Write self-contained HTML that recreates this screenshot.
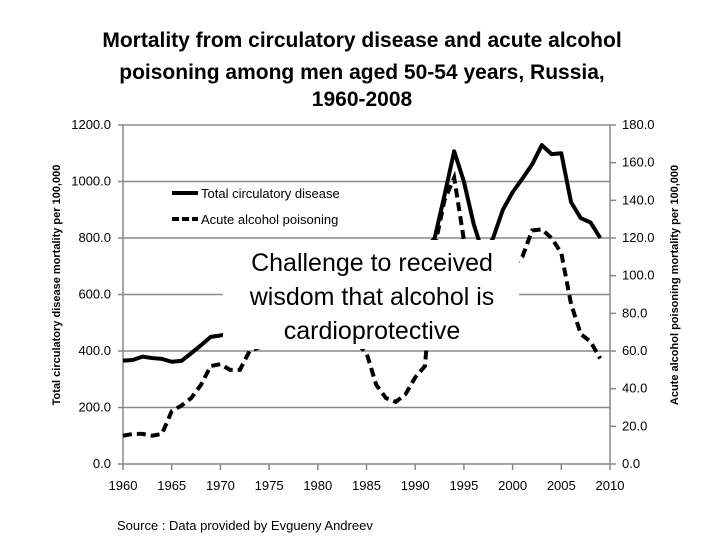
<!DOCTYPE html>
<html><head><meta charset="utf-8"><style>
body{margin:0;background:#fff;width:720px;height:540px;overflow:hidden;font-family:"Liberation Sans",sans-serif}
</style></head><body>
<svg width="720" height="540" xmlns="http://www.w3.org/2000/svg">
<g font-family="Liberation Sans, sans-serif" font-weight="bold" font-size="21" text-anchor="middle" fill="#000">
<text x="362" y="47">Mortality from circulatory disease and acute alcohol</text>
<text x="362" y="79">poisoning among men aged 50-54 years, Russia,</text>
<text x="362" y="106">1960-2008</text>
</g>
<g id="grid"></g>
<g id="axes"></g>
<g id="series"></g>
<rect x="223" y="240" width="296" height="109" fill="#fff"/>
<g font-size="25" text-anchor="middle" fill="#000">
<text x="372" y="271">Challenge to received</text>
<text x="372" y="305">wisdom that alcohol is</text>
<text x="372" y="339">cardioprotective</text>
</g>
<g font-size="13" fill="#000">
<line x1="172" y1="193" x2="198" y2="193" stroke="#000" stroke-width="4"/>
<text x="201" y="198">Total circulatory disease</text>
<line x1="172" y1="219" x2="198" y2="219" stroke="#000" stroke-width="4" stroke-dasharray="7,3"/>
<text x="201" y="224">Acute alcohol poisoning</text>
</g>
<text transform="translate(60,285) rotate(-90)" font-size="11" font-weight="bold" text-anchor="middle">Total circulatory disease mortality per 100,000</text>
<text transform="translate(678,285) rotate(-90)" font-size="11" font-weight="bold" text-anchor="middle">Acute alcohol poisoning mortality per 100,000</text>
<text x="117" y="530" font-size="13">Source : Data provided by Evgueny Andreev</text>
</svg>
<script>
const years=[1960,1961,1962,1963,1964,1965,1966,1967,1968,1969,1970,1971,1972,1973,1974,1975,1976,1977,1978,1979,1980,1981,1982,1983,1984,1985,1986,1987,1988,1989,1990,1991,1992,1993,1994,1995,1996,1997,1998,1999,2000,2001,2002,2003,2004,2005,2006,2007,2008,2009];
const circulatory=[366,368,380,375,372,362,365,392,420,450,455,462,480,500,520,540,560,580,600,610,620,640,650,660,660,650,620,600,610,640,700,760,800,950,1107,1000,850,740,800,900,962,1010,1060,1129,1097,1100,927,870,855,800];
const alcohol=[15,16,16,15,16,28,31,35,42,52,53,50,50,60,62,66,68,70,72,72,70,70,68,66,64,59,42,35,33,37,46,52,115,140,152,119,100,90,95,105,105,110,124,124.6,120,112,85,69,65,56];
const leftTicks=[0,200,400,600,800,1000,1200];
const rightTicks=[0,20,40,60,80,100,120,140,160,180];
const xTicks=[1960,1965,1970,1975,1980,1985,1990,1995,2000,2005,2010];
const NS='http://www.w3.org/2000/svg';
const X0=123,X1=610,Y0=464,Y1=125;
const xs=y=>X0+(y-1960)/(2010-1960)*(X1-X0);
const yl=v=>Y0-v/1200*(Y0-Y1);
const yr=v=>Y0-v/180*(Y0-Y1);
function mk(tag,attrs,parent){const e=document.createElementNS(NS,tag);for(const k in attrs)e.setAttribute(k,attrs[k]);parent.appendChild(e);return e;}
const grid=document.getElementById('grid'),axes=document.getElementById('axes'),series=document.getElementById('series');
leftTicks.forEach(v=>{
 const g=mk('line',{x1:X0-5,x2:X1,y1:yl(v),y2:yl(v),stroke:'#888','stroke-width':1.5},grid);
 
 
 const t=mk('text',{x:X0-12,y:yl(v)+4,'font-size':13,'text-anchor':'end'},axes);
 t.textContent=v.toFixed(1);
 
 
});
rightTicks.forEach(v=>{
 mk('line',{x1:X1,x2:X1+6,y1:yr(v),y2:yr(v),stroke:'#888','stroke-width':1.5},axes);
 const t=mk('text',{x:622,y:yr(v)+4,'font-size':13},axes);
 t.textContent=v.toFixed(1);
 
 
});
xTicks.forEach(v=>{
 mk('line',{x1:xs(v),x2:xs(v),y1:Y0,y2:Y0+6,stroke:'#888','stroke-width':1.5},axes);
 const t=mk('text',{x:xs(v),y:490,'font-size':13,'text-anchor':'middle'},axes);
 t.textContent=v;
 
 
});
mk('line',{x1:X0,x2:X0,y1:Y1,y2:Y0,stroke:'#888','stroke-width':1.5},axes);
mk('line',{x1:X1,x2:X1,y1:Y1,y2:Y0,stroke:'#888','stroke-width':1.5},axes);
const p1=mk('polyline',{points:years.map((y,i)=>xs(y)+','+yl(circulatory[i])).join(' '),fill:'none',stroke:'#000','stroke-width':4,'stroke-linejoin':'round'},series);


const p2=mk('polyline',{points:years.map((y,i)=>xs(y)+','+yr(alcohol[i])).join(' '),fill:'none',stroke:'#000','stroke-width':4,'stroke-dasharray':'9,5'},series);


</script>
</body></html>
